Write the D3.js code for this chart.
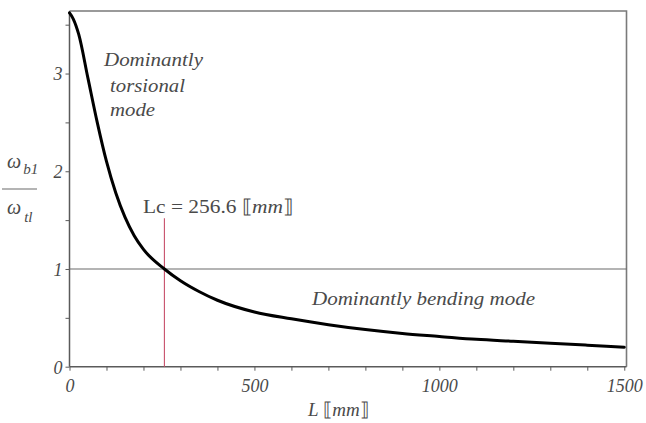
<!DOCTYPE html>
<html>
<head>
<meta charset="utf-8">
<script src="https://cdn.jsdelivr.net/npm/d3@7"></script>
<style>
  html, body { margin: 0; padding: 0; background: #fff; }
  svg { display: block; }
  text { font-family: "Liberation Serif", "Times New Roman", serif; fill: #4a4a4a; }
</style>
</head>
<body>
<svg id="chart" width="646" height="423"></svg>
<script>
// ---- data ----
const lengths = [0, 10, 25, 50, 75, 100, 125, 150, 175, 200, 256.6, 300, 350, 400, 500, 600, 700, 800, 900, 1000, 1100, 1200, 1300, 1400, 1500];
const ratios  = [3.62, 3.56, 3.40, 2.95, 2.50, 2.10, 1.78, 1.53, 1.34, 1.20, 1.00, 0.88, 0.77, 0.68, 0.56, 0.49, 0.43, 0.38, 0.34, 0.31, 0.28, 0.26, 0.24, 0.22, 0.20];
const xTicks = [0, 100, 200, 300, 400, 500, 600, 700, 800, 900, 1000, 1100, 1200, 1300, 1400, 1500];
const xTickLabels = [0, 500, 1000, 1500];
const yTicks = [0, 0.5, 1, 1.5, 2, 2.5, 3, 3.5];
const yTickLabels = [0, 1, 2, 3];
const criticalLength = 256.6;
const unitRatio = 1;

const svg = d3.select("#chart");
const x = d3.scaleLinear().domain([0, 1506]).range([69.5, 626.5]);
const y = d3.scaleLinear().domain([0, 3.64]).range([366.7, 11]);
const axisColor = "#5a5a5a";

// frame (top and right)
svg.append("path")
  .attr("d", `M${x(0)},${y(3.64)}H${x(1506)}V${y(0)}`)
  .attr("fill", "none").attr("stroke", "#7a7a7a").attr("stroke-width", 1.6);

// y axis
const yAxis = svg.append("g").attr("transform", `translate(${x(0)},0)`)
  .call(d3.axisLeft(y).tickValues(yTicks).tickSize(4).tickSizeOuter(0)
    .tickFormat(d => yTickLabels.includes(d) ? d3.format("d")(d) : ""));
yAxis.select(".domain").attr("stroke", axisColor).attr("stroke-width", 1.5).attr("d", `M0,${y(0)}V${y(3.64)}`);
yAxis.selectAll(".tick line").attr("stroke", axisColor).attr("stroke-width", 1);
yAxis.selectAll(".tick text")
  .attr("x", -7).attr("dy", "0.35em")
  .style("font-family", "'Liberation Serif', serif").style("font-style", "italic")
  .style("font-size", "18px").attr("fill", "#4a4a4a");

// x axis
const xAxis = svg.append("g").attr("transform", `translate(0,${y(0)})`)
  .call(d3.axisBottom(x).tickValues(xTicks).tickSize(4).tickSizeOuter(0)
    .tickFormat(d => xTickLabels.includes(d) ? d3.format("d")(d) : ""));
xAxis.select(".domain").attr("stroke", axisColor).attr("stroke-width", 1.5).attr("d", `M${x(0)},0H${x(1506)}`);
xAxis.selectAll(".tick line").attr("stroke", axisColor).attr("stroke-width", 1);
xAxis.selectAll(".tick text")
  .attr("y", 25).attr("dy", 0)
  .style("font-family", "'Liberation Serif', serif").style("font-style", "italic")
  .style("font-size", "18px").attr("fill", "#4a4a4a");

// horizontal line at ratio = 1
svg.append("line")
  .attr("x1", x(0)).attr("x2", x(1506))
  .attr("y1", y(unitRatio)).attr("y2", y(unitRatio))
  .attr("stroke", "#6a6a6a").attr("stroke-width", 1.2);

// red vertical line at Lc
svg.append("line")
  .attr("x1", x(criticalLength)).attr("x2", x(criticalLength))
  .attr("y1", y(1.52)).attr("y2", y(0))
  .attr("stroke", "#c8506a").attr("stroke-width", 1.1);

// curve
const line = d3.line().x((d, i) => x(lengths[i])).y(d => y(d)).curve(d3.curveMonotoneX);
svg.append("path")
  .attr("d", line(ratios))
  .attr("fill", "none").attr("stroke", "#000").attr("stroke-width", 3)
  .attr("stroke-linejoin", "round").attr("stroke-linecap", "round");

// annotations
function italicText(str, px, py, len) {
  return svg.append("text").attr("x", px).attr("y", py)
    .style("font-style", "italic").style("font-size", "18px")
    .attr("textLength", len).attr("lengthAdjust", "spacingAndGlyphs")
    .text(str);
}
italicText("Dominantly", 104, 66, 99);
italicText("torsional", 110, 92, 75);
italicText("mode", 110, 116, 45);
italicText("Dominantly bending mode", 312, 305, 223);

const lc = svg.append("text").attr("x", 143).attr("y", 213).style("font-size", "19px")
  .attr("textLength", 150).attr("lengthAdjust", "spacingAndGlyphs");
lc.append("tspan").text("Lc = 256.6 ⟦");
lc.append("tspan").style("font-style", "italic").text("mm");
lc.append("tspan").text("⟧");

// x axis title
const xt = svg.append("text").attr("x", 308).attr("y", 416).style("font-size", "19px");
xt.append("tspan").style("font-style", "italic").text("L");
xt.append("tspan").text(" ⟦");
xt.append("tspan").style("font-style", "italic").text("mm");
xt.append("tspan").text("⟧");

// y axis title (fraction)
const yt = svg.append("g");
const num = yt.append("text").attr("x", 7).attr("y", 168).style("font-size", "20px").style("font-style", "italic");
num.append("tspan").text("ω");
num.append("tspan").attr("dx", 2).attr("dy", 6).style("font-size", "15px").text("b1");
yt.append("line").attr("x1", 2).attr("x2", 37).attr("y1", 189).attr("y2", 189)
  .attr("stroke", "#6a6a6a").attr("stroke-width", 1.2);
const den = yt.append("text").attr("x", 7).attr("y", 214).style("font-size", "20px").style("font-style", "italic");
den.append("tspan").text("ω");
den.append("tspan").attr("dx", 3).attr("dy", 8).style("font-size", "15px").text("tl");
</script>
</body>
</html>
